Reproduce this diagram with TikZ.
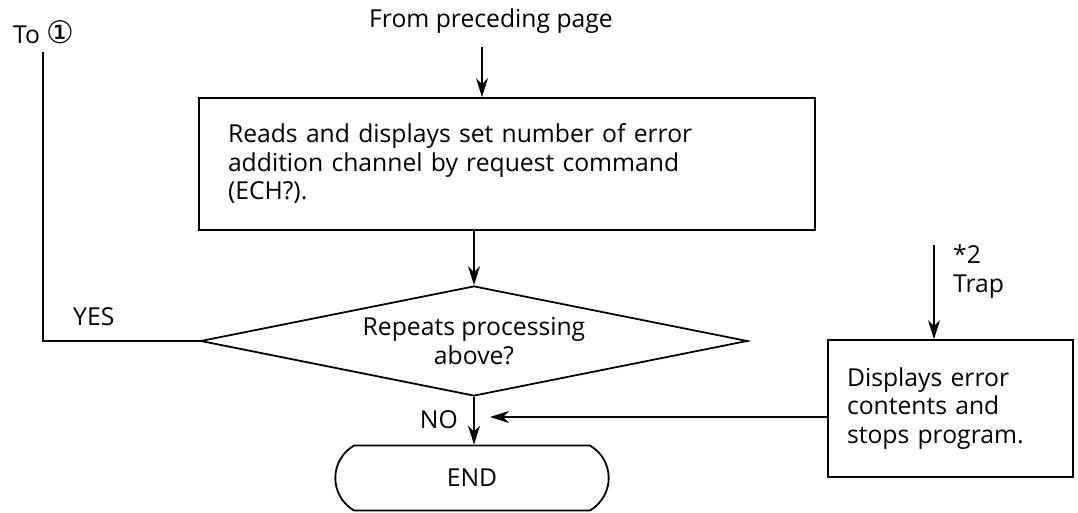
\documentclass[tikz,border=0pt]{standalone}
\usepackage{fontspec}
\setmainfont{Open Sans}
\newfontfamily\symfont{DejaVu Sans}
\usetikzlibrary{arrows.meta,positioning,shapes.geometric,shapes.misc}
\tikzset{
  >={Stealth[length=19pt,width=12pt,inset=6pt]},
  procbox/.style={draw,line width=1.8pt,inner sep=0pt,align=left},
  decbox/.style={diamond,draw,line width=1.8pt,inner sep=0pt,align=center,
    shape aspect=4.97,minimum width=547pt,minimum height=110pt},
  termbox/.style={rounded rectangle,rounded rectangle arc length=120,draw,
    line width=1.8pt,minimum width=280pt,minimum height=65pt},
  flow/.style={->,line width=1.8pt},
  link/.style={line width=1.8pt},
  flowlbl/.style={inner sep=0pt,align=left},
}
\begin{document}
\begin{tikzpicture}[x=1pt,y=-1pt,every node/.style={font=\fontsize{24.7}{28.5}\selectfont}]
  \useasboundingbox (0,0) rectangle (1078,513);
  % main column
  \node[flowlbl,anchor=base] (from) at (491,28) {From preceding page};
  \node[procbox,minimum width=616pt,minimum height=132pt,text width=558pt]
    (read) at (507,164) {Reads and displays set number of error\\
    addition channel by request command\\(ECH?).};
  \node[decbox] (rep) at (474,341) {Repeats processing\\above?};
  \node[termbox] (end) at (472,478) {END};
  \coordinate (in) at (482,47);
  \draw[flow] (in) -- (in |- read.north);
  \draw[flow] (read.south -| rep.north) -- (rep.north);
  \draw[flow] (rep.south) -- (rep.south |- end.north);
  \node[flowlbl,anchor=base east] (no) at (458,428) {NO};
  % YES branch
  \coordinate (to1) at (43,52);
  \draw[link] (rep.west) -| (to1);
  \node[flowlbl,anchor=base west] (tolbl) at (13,44)
    {To {\symfont\fontsize{31}{31}\selectfont ①}};
  \node[flowlbl,anchor=base west] (yes) at (73,325) {YES};
  % trap branch
  \node[procbox,minimum width=245pt,minimum height=137pt,text width=207pt]
    (err) at (950.5,408.5) {Displays error\\contents and\\stops program.};
  \coordinate (trap) at (934,245);
  \draw[flow] (trap) -- (trap |- err.north);
  \node[flowlbl,anchor=north west] (traplbl) at (953,245) {*2\\Trap};
  \coordinate (join) at (490,417);
  \draw[flow] (err.west |- join) -- (join);
\end{tikzpicture}
\end{document}
